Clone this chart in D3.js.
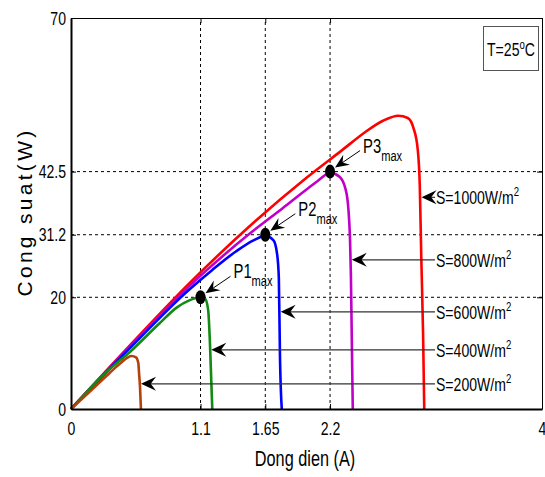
<!DOCTYPE html>
<html>
<head>
<meta charset="utf-8">
<script src="https://cdn.jsdelivr.net/npm/d3@7"></script>
<style>
  body { margin: 0; background: #fff; }
  svg { display: block; font-family: "Liberation Sans", Arial, sans-serif; }
</style>
</head>
<body>
<script>
// ---- data ----
var xTicks = [0, 1.1, 1.65, 2.2, 4];
var yTicks = [0, 20, 31.2, 42.5, 70];

// current (A) / power (W) for each irradiance level
var i1000 = [0, 0.5, 1.0, 1.5, 2.0, 2.3, 2.5, 2.65, 2.78, 2.86, 2.91, 2.945, 2.962, 2.975, 2.99, 3.0];
var p1000 = [0, 11.4, 22.4, 32.4, 41.4, 46.3, 49.6, 51.6, 52.5, 52.1, 50.2, 46.4, 40.0, 27.0, 13.5, 0];
var i800 = [0, 0.5, 1.0, 1.5, 1.8, 2.0, 2.1, 2.2, 2.28, 2.33, 2.355, 2.37, 2.377, 2.385, 2.393];
var p800 = [0, 11.2, 21.9, 31.1, 36.0, 39.3, 40.9, 42.3, 41.6, 39.5, 36.0, 30.0, 24.0, 12.0, 0];
var i600 = [0, 0.5, 1.0, 1.2, 1.4, 1.55, 1.65, 1.72, 1.75, 1.765, 1.775, 1.79];
var p600 = [0, 10.9, 21.3, 24.9, 28.2, 30.2, 31.0, 30.2, 27.8, 23.5, 9.0, 0];
var i400 = [0, 0.3, 0.5, 0.75, 0.9, 1.0, 1.1, 1.14, 1.165, 1.18, 1.195, 1.2];
var p400 = [0, 6.6, 10.2, 15.3, 18.2, 19.4, 20.0, 19.7, 17.7, 11.8, 2.8, 0];
var i200 = [0, 0.19, 0.33, 0.42, 0.515, 0.552, 0.572, 0.578, 0.586, 0.594];
var p200 = [0, 3.7, 6.5, 8.2, 9.5, 9.25, 8.2, 6.4, 4.0, 0];

var seriesNames = ["S=1000W/m", "S=800W/m", "S=600W/m", "S=400W/m", "S=200W/m"];
var seriesColors = ["#ff0000", "#c000c8", "#0000ff", "#138a13", "#b4410c"];
// where each label arrow meets its curve
var arrowI = [2.968, 2.376, 1.772, 1.183, 0.586];
var arrowP = [37.9, 26.7, 17.4, 10.6, 4.5];

// maximum power points
var maxNames = ["P1", "P2", "P3"];
var maxI = [1.1, 1.65, 2.2];
var maxP = [20, 31.2, 42.5];

// ---- chart ----
var width = 545, height = 477;
var sx = 0.74; // glyphs in the original are squeezed sideways

var svg = d3.select("body").append("svg")
    .attr("width", width)
    .attr("height", height);

var x = d3.scaleLinear().domain([0, 4]).range([71, 542]);
var y = d3.scaleLinear().domain([0, 70]).range([409, 18]);

// dashed guide lines
var grid = svg.append("g")
    .attr("stroke", "#000")
    .attr("stroke-width", 1)
    .attr("stroke-dasharray", "3,3");
grid.selectAll(".gx")
    .data(xTicks.filter(function (d) { return d > 0 && d < 4; }))
    .enter().append("line")
    .attr("x1", function (d) { return x(d); })
    .attr("x2", function (d) { return x(d); })
    .attr("y1", y(0)).attr("y2", y(70));
grid.selectAll(".gy")
    .data(yTicks.filter(function (d) { return d > 0 && d < 70; }))
    .enter().append("line")
    .attr("y1", function (d) { return y(d); })
    .attr("y2", function (d) { return y(d); })
    .attr("x1", x(0)).attr("x2", x(4));

// top and right frame with inward ticks
svg.append("g")
    .attr("transform", "translate(0," + y(70) + ")")
    .call(d3.axisTop(x).tickValues(xTicks).tickSizeInner(-5).tickSizeOuter(0).tickFormat(""))
    .call(function (g) { g.selectAll("path, line").attr("stroke", "#000").attr("stroke-width", 1); });
svg.append("g")
    .attr("transform", "translate(" + x(4) + ",0)")
    .call(d3.axisRight(y).tickValues(yTicks).tickSizeInner(-5).tickSizeOuter(0).tickFormat(""))
    .call(function (g) { g.selectAll("path, line").attr("stroke", "#000").attr("stroke-width", 1); });

// curves
var line = d3.line()
    .x(function (d) { return x(d[0]); })
    .y(function (d) { return y(d[1]); })
    .curve(d3.curveMonotoneX);

var curves = [[i1000, p1000], [i800, p800], [i600, p600], [i400, p400], [i200, p200]];
svg.selectAll(".curve")
    .data(curves)
    .enter().append("path")
    .attr("class", "curve")
    .attr("fill", "none")
    .attr("stroke", function (d, i) { return seriesColors[i]; })
    .attr("stroke-width", 2.6)
    .attr("stroke-linejoin", "round")
    .attr("d", function (d) { return line(d3.zip(d[0], d[1])); });

// left and bottom axes
var xAxis = svg.append("g")
    .attr("transform", "translate(0," + y(0) + ")")
    .call(d3.axisBottom(x).tickValues(xTicks).tickSizeInner(-5).tickSizeOuter(0).tickPadding(13)
        .tickFormat(function (d) { return d; }));
var yAxis = svg.append("g")
    .attr("transform", "translate(" + x(0) + ",0)")
    .call(d3.axisLeft(y).tickValues(yTicks).tickSizeInner(-5).tickSizeOuter(0).tickPadding(5)
        .tickFormat(function (d) { return d; }));

[xAxis, yAxis].forEach(function (g) {
    g.select(".domain").attr("stroke", "#000").attr("stroke-width", 2);
    g.selectAll(".tick line").attr("stroke", "#000");
    g.selectAll("text")
        .attr("fill", "#000")
        .style("font-size", "19px")
        .style("font-family", "Liberation Sans, Arial, sans-serif")
        .attr("transform", "scale(" + sx + ",1)");
});
yAxis.selectAll("text").attr("x", -5 / sx);

// squeezed text helper
function squeezed(px, py, anchor, size) {
    return svg.append("g")
        .attr("transform", "translate(" + px + "," + py + ") scale(" + sx + ",1)")
        .append("text")
        .attr("text-anchor", anchor || "start")
        .style("font-size", (size || 19) + "px")
        .attr("fill", "#000");
}

squeezed(305, 466, "middle", 22).text("Dong dien (A)");

svg.append("text")
    .attr("transform", "translate(32,212) rotate(-90)")
    .attr("text-anchor", "middle")
    .style("font-size", "21px")
    .style("letter-spacing", "3.3px")
    .text("Cong suat(W)");

// temperature box
svg.append("rect")
    .attr("x", 483.5).attr("y", 26.5)
    .attr("width", 55).attr("height", 44)
    .attr("fill", "#fff")
    .attr("stroke", "#555");
var tl = squeezed(511, 56, "middle", 19);
tl.append("tspan").text("T=25");
tl.append("tspan").attr("dy", -7).style("font-size", "13px").text("o");
tl.append("tspan").attr("dy", 7).text("C");

// arrowhead shape, tip at origin pointing left
function arrowHead(g, tx, ty, angle, len, half) {
    g.append("path")
        .attr("d", "M0,0L" + len + "," + (-half) + "L" + (len * 0.65) + ",0L" + len + "," + half + "Z")
        .attr("transform", "translate(" + tx + "," + ty + ") rotate(" + angle + ")")
        .attr("fill", "#000");
}

// irradiance labels
var ann = svg.append("g");
seriesNames.forEach(function (name, i) {
    var tx = x(arrowI[i]) + 1, ty = y(arrowP[i]);
    var textX = 436;
    ann.append("line")
        .attr("x1", tx + 6).attr("x2", textX - 1)
        .attr("y1", ty).attr("y2", ty)
        .attr("stroke", "#333")
        .attr("stroke-width", 1.2);
    arrowHead(ann, tx, ty, 0, 15, 7);
    var t = squeezed(textX, ty + 7, "start", 19);
    t.append("tspan").text(name);
    t.append("tspan").attr("dy", -8).style("font-size", "13px").text("2");
});

// maximum power points
maxNames.forEach(function (name, i) {
    var mx = x(maxI[i]), my = y(maxP[i]);
    svg.append("ellipse")
        .attr("cx", mx).attr("cy", my)
        .attr("rx", 5).attr("ry", 7)
        .attr("fill", "#000");
    var ax = mx + 30, ay = my - 21;
    var tipX = mx + 5, tipY = my - 4;
    var ang = Math.atan2(ay - tipY, ax - tipX) * 180 / Math.PI;
    svg.append("line")
        .attr("x1", tipX + 8 * Math.cos(ang * Math.PI / 180))
        .attr("y1", tipY + 8 * Math.sin(ang * Math.PI / 180))
        .attr("x2", ax).attr("y2", ay)
        .attr("stroke", "#000").attr("stroke-width", 1);
    arrowHead(svg, tipX, tipY, ang, 14, 6);
    var t = squeezed(mx + 33, my - 19, "start", 20);
    t.append("tspan").text(name);
    t.append("tspan").attr("dy", 8).style("font-size", "15px").text("max");
});
</script>
</body>
</html>
